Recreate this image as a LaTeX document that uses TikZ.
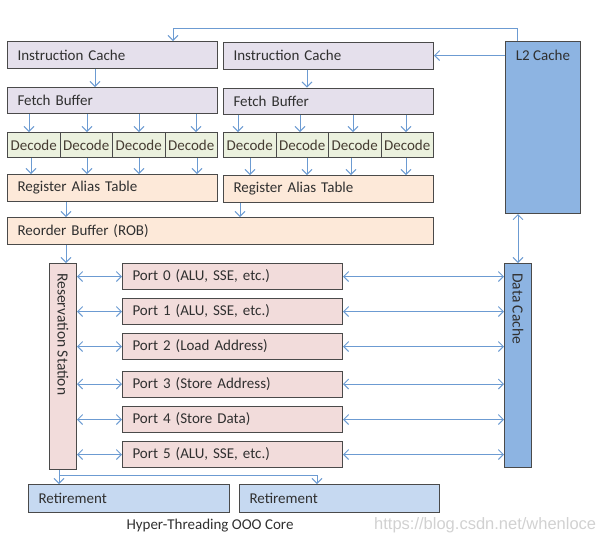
\documentclass[tikz,border=0pt]{standalone}
\usepackage{fontspec}
\setmainfont{Carlito}
\newfontfamily\wmfont{Liberation Sans}
\usetikzlibrary{arrows.meta,calc}
\definecolor{lav}{HTML}{E5E0EC}
\definecolor{grn}{HTML}{EBF1DE}
\definecolor{peach}{HTML}{FDE9D9}
\definecolor{pinkc}{HTML}{F2DCDB}
\definecolor{bluec}{HTML}{8DB4E2}
\definecolor{retc}{HTML}{C6D9F1}
\definecolor{bord}{HTML}{4A4A4A}
\definecolor{arrc}{HTML}{6C9BD2}
\definecolor{txt}{HTML}{303030}
\tikzset{
  bx/.style={draw=bord, line width=1pt, anchor=north west, inner xsep=10pt, inner ysep=0pt, align=left, text=txt, font=\fontsize{15}{16}\selectfont},
  dec/.style={draw=bord, line width=1pt, anchor=north west, inner sep=0pt, minimum width=52.5pt, minimum height=25pt, fill=grn, text=txt!85!brown, font=\fontsize{15}{16}\selectfont},
  vlab/.style={rotate=-90, anchor=west, inner sep=0pt, text=txt, font=\fontsize{15.5}{16}\selectfont},
  arr/.style={draw=arrc, line width=0.9pt, -{Straight Barb[length=5pt,width=10pt]}},
  darr/.style={draw=arrc, line width=0.9pt, {Straight Barb[length=5pt,width=10pt]}-{Straight Barb[length=5pt,width=10pt]}}
}
\begin{document}
\begin{tikzpicture}[x=1pt,y=-1pt]
\useasboundingbox (0,0) rectangle (598,542);
% front end
\node[bx, fill=lav, text width=190pt, minimum height=27pt] (ic1) at (7,41) {Instruction Cache};
\node[bx, fill=lav, text width=190pt, minimum height=27pt] (ic2) at (223,41.5) {Instruction Cache};
\node[bx, fill=lav, text width=190pt, minimum height=26pt] (fb1) at (7,87) {Fetch Buffer};
\node[bx, fill=lav, text width=190pt, minimum height=26pt] (fb2) at (223,87.5) {Fetch Buffer};
\node[dec] (d11) at (7,132) {Decode};
\node[dec] (d12) at (59.5,132) {Decode};
\node[dec] (d13) at (112,132) {Decode};
\node[dec] (d14) at (164.5,132) {Decode};
\node[dec] (d21) at (223,132) {Decode};
\node[dec] (d22) at (275.5,132) {Decode};
\node[dec] (d23) at (328,132) {Decode};
\node[dec] (d24) at (380.5,132) {Decode};
\node[bx, fill=peach, text width=190pt, minimum height=27pt] (rat1) at (7,174) {Register Alias Table};
\node[bx, fill=peach, text width=190pt, minimum height=27pt] (rat2) at (223,175) {Register Alias Table};
\node[bx, fill=peach, text width=406pt, minimum height=27pt] (rob) at (7,217) {Reorder Buffer (ROB)};
% L2 and data cache
\node[draw=bord, line width=1pt, fill=bluec, anchor=north west, minimum width=75pt, minimum height=172pt, inner sep=0pt] (l2) at (505,41) {};
\node[anchor=north, inner sep=0pt, text=txt, font=\fontsize{15}{16}\selectfont] (l2t) at ([yshift=-9pt]l2.north) {L2 Cache};
\node[draw=bord, line width=1pt, fill=bluec, anchor=north west, minimum width=27pt, minimum height=204pt, inner sep=0pt] (dc) at (504,263) {};
\node[vlab] (dct) at ([yshift=-10pt]dc.north) {Data Cache};
% reservation station
\node[draw=bord, line width=1pt, fill=pinkc, anchor=north west, minimum width=27pt, minimum height=206pt, inner sep=0pt] (rs) at (49,263) {};
\node[vlab] (rst) at ([yshift=-10pt]rs.north) {Reservation Station};
% ports
\node[bx, fill=pinkc, text width=200pt, minimum height=26pt] (p0) at (122,263) {Port 0 (ALU, SSE, etc.)};
\node[bx, fill=pinkc, text width=200pt, minimum height=26pt] (p1) at (122,298) {Port 1 (ALU, SSE, etc.)};
\node[bx, fill=pinkc, text width=200pt, minimum height=26pt] (p2) at (122,333) {Port 2 (Load Address)};
\node[bx, fill=pinkc, text width=200pt, minimum height=26pt] (p3) at (122,370.5) {Port 3 (Store Address)};
\node[bx, fill=pinkc, text width=200pt, minimum height=26pt] (p4) at (122,406) {Port 4 (Store Data)};
\node[bx, fill=pinkc, text width=200pt, minimum height=26pt] (p5) at (122,441) {Port 5 (ALU, SSE, etc.)};
% retirement
\node[bx, fill=retc, text width=181pt, minimum height=28pt] (ret1) at (28,484) {Retirement};
\node[bx, fill=retc, text width=180pt, minimum height=28pt] (ret2) at (239,484) {Retirement};
\node[text=txt, font=\fontsize{15}{16}\selectfont, inner sep=0pt] (cap) at (210,526) {Hyper-Threading OOO Core};
\node[anchor=west, inner sep=0pt, text=black!18, font=\wmfont\fontsize{16.5}{18}\selectfont] (wm) at (374,525) {https://blog.csdn.net/whenloce};
% helper coordinates
\coordinate (k1) at (517,28);
\coordinate (k2) at (173,28);
\coordinate (x95) at (95,0);
\coordinate (x307) at (307,0);
\coordinate (a1) at (29,0); \coordinate (a2) at (87,0); \coordinate (a3) at (139,0); \coordinate (a4) at (196,0);
\coordinate (b1) at (31,0); \coordinate (b2) at (87,0); \coordinate (b3) at (139,0); \coordinate (b4) at (197,0);
\coordinate (c1) at (238,0); \coordinate (c2) at (300,0); \coordinate (c3) at (353,0); \coordinate (c4) at (406,0);
\coordinate (e1) at (250,0); \coordinate (e2) at (307,0); \coordinate (e3) at (351,0); \coordinate (e4) at (406,0);
\coordinate (x66) at (66,0);
\coordinate (x240) at (240,0);
\coordinate (x59) at (59,0);
\coordinate (j1) at (59,475);
\coordinate (j2) at (317,475);
% connectors
\draw[arr] (l2.north -| k1) -- (k1) -- (k2) -- (ic1.north -| k2);
\draw[arr] (l2.west |- ic2) -- (ic2.east);
\draw[arr] (ic1.south -| x95) -- (fb1.north -| x95);
\draw[arr] (ic2.south -| x307) -- (fb2.north -| x307);
\foreach \i/\d in {a1/d11,a2/d12,a3/d13,a4/d14}
  \draw[arr] (fb1.south -| \i) -- (\d.north -| \i);
\foreach \i/\d in {c1/d21,c2/d22,c3/d23,c4/d24}
  \draw[arr] (fb2.south -| \i) -- (\d.north -| \i);
\foreach \i/\d in {b1/d11,b2/d12,b3/d13,b4/d14}
  \draw[arr] (\d.south -| \i) -- (rat1.north -| \i);
\foreach \i/\d in {e1/d21,e2/d22,e3/d23,e4/d24}
  \draw[arr] (\d.south -| \i) -- (rat2.north -| \i);
\draw[arr] (rat1.south -| x66) -- (rob.north -| x66);
\draw[arr] (rat2.south -| x240) -- (rob.north -| x240);
\draw[arr] (rob.south -| x66) -- (rs.north -| x66);
\draw[darr] (l2.south -| dc) -- (dc.north);
\foreach \p in {p0,p1,p2,p3,p4,p5}{
  \draw[darr] (rs.east |- \p) -- (\p.west);
  \draw[darr] (\p.east) -- (dc.west |- \p);
}
\draw[arr] (rs.south -| x59) -- (ret1.north -| x59);
\draw[arr] (j1) -- (j2) -- (ret2.north -| j2);
\end{tikzpicture}
\end{document}
